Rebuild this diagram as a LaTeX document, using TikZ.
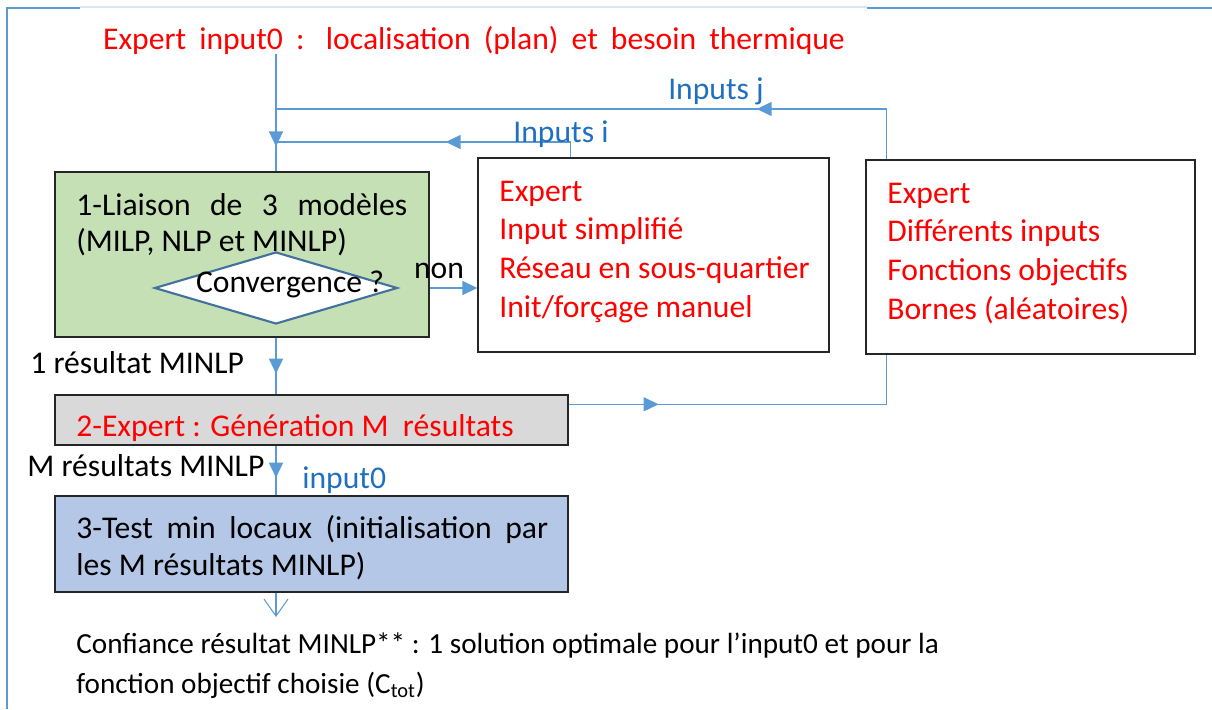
\documentclass[tikz,border=0pt]{standalone}
\usepackage{fontspec}
\setmainfont{Carlito}
\usetikzlibrary{arrows.meta,shapes.geometric,decorations.markings,calc}
\definecolor{lblue}{HTML}{5B9BD5}
\definecolor{tblue}{HTML}{1F70C0}
\definecolor{tred}{HTML}{FF0000}
\definecolor{gfill}{HTML}{C5E0B4}
\definecolor{grfill}{HTML}{D9D9D9}
\definecolor{bfill}{HTML}{B4C7E7}
\definecolor{dborder}{HTML}{41719C}
\definecolor{bline}{HTML}{262626}
\definecolor{faint}{HTML}{DCE6F0}
\begin{document}
\begin{tikzpicture}[x=0.02cm,y=-0.02cm,
  every node/.style={font=\fontsize{18}{22}\selectfont},
  conn/.style={color=lblue,line width=0.8pt},
  tip/.style={-{Triangle[length=0.3cm,width=0.28cm]}},
  midtip/.style={postaction={decorate},decoration={markings,mark=at position #1 with {\arrow{Triangle[length=0.3cm,width=0.28cm]}}}},
  box/.style={draw=bline,line width=0.8pt,rectangle,inner sep=0pt},
  btxt/.style={anchor=base west,inner sep=0,align=left},
  redtxt/.style={text=tred},
  bluetxt/.style={text=tblue},
]
\useasboundingbox (0,0) rectangle (1212,709);
% frame
\draw[lblue,line width=1pt] (7,709) -- (7,8) -- (80,8);
\draw[faint,line width=0.6pt] (80,7) -- (867,7);
\draw[lblue,line width=1pt] (867,8) -- (1212,8);

% title
\node[redtxt,inner sep=0] (title) at (474,40) {\makebox[14.84cm][s]{Expert input0 : localisation (plan) et besoin thermique}};

% box 1
\node[box,fill=gfill,minimum width=7.48cm,minimum height=3.3cm] (b1) at (242,254.5) {};
\node[btxt,font=\fontsize{18}{21}\selectfont] (b1t) at (76,252) {\makebox[6.62cm][s]{1-Liaison de 3 modèles}\\(MILP, NLP et MINLP)};
\node[diamond,draw=dborder,fill=white,line width=1.2pt,minimum width=4.86cm,minimum height=1.44cm,inner sep=0] (d) at (276,288) {};
\node[inner sep=0] (conv) at (290,284) {Convergence ?};

% box 2
\node[box,minimum width=7.02cm,minimum height=3.88cm] (b2) at (653.5,255) {};
\node[btxt,redtxt] (b2t) at (499,317) {Expert\\Input simplifié\\Réseau en sous-quartier\\Init/forçage manuel};
% box 3
\node[box,minimum width=6.58cm,minimum height=3.88cm] (b3) at (1030.5,257) {};
\node[btxt,redtxt] (b3t) at (887,319) {Expert\\Différents inputs\\Fonctions objectifs\\Bornes (aléatoires)};

% gen box
\node[box,fill=grfill,minimum width=10.26cm,minimum height=1.0cm] (gen) at (311.5,420) {};
\node[btxt,redtxt] (gent) at (76,436) {2-Expert : Génération M\ \ résultats};
% test box
\node[box,fill=bfill,minimum width=10.26cm,minimum height=1.92cm] (test) at (311.5,544) {};
\node[btxt,font=\fontsize{18}{21}\selectfont] (testt) at (76,575) {\makebox[9.44cm][s]{3-Test min locaux (initialisation par}\\les M résultats MINLP)};

% coordinates
\coordinate (jj) at (276,109);
\coordinate (ii) at (276,142);
\coordinate (out) at (276,617);

% connectors
\draw[conn,midtip=1.84cm] (title.south -| d.north) -- (d.north |- b1.north);
\draw[conn,midtip=3.6cm] ($(b3.north west)+(21,0)$) |- (jj);
\draw[conn,midtip=2.8cm] ($(b2.north west)+(93,0)$) |- (ii);
\draw[conn,tip] (b1.east |- d.east) -- (b2.west |- d.east);
\draw[conn,midtip=0.72cm] (d.north |- b1.south) -- (d.north |- gen.north);
\draw[conn,midtip=1.8cm] ($(gen.north east)+(0,10)$) -| ($(b3.south west)+(21,0)$);
\draw[conn,midtip=0.64cm] (d.north |- gen.south) -- (d.north |- test.north);
\draw[conn,line width=0.6pt,-{Straight Barb[length=0.34cm,width=0.48cm]}] (d.north |- test.south) -- (out);

% labels
\node[bluetxt,inner sep=0] (lj) at (716,91) {Inputs j};
\node[bluetxt,inner sep=0] (li) at (561,134) {Inputs i};
\node[inner sep=0] (lnon) at (439,271) {non};
\node[inner sep=0,anchor=west] (l1) at (30,363) {1 résultat MINLP};
\node[inner sep=0,anchor=west] (lM) at (27,466) {M résultats MINLP};
\node[bluetxt,inner sep=0,anchor=west] (lin) at (302,480) {input0};

% conclusion
\node[btxt,font=\fontsize{16.6}{22.7}\selectfont] (concl) at (76,693) {Confiance résultat MINLP** : 1 solution optimale pour l’input0 et pour la\\fonction objectif choisie (C\textsubscript{tot})};
\end{tikzpicture}
\end{document}
